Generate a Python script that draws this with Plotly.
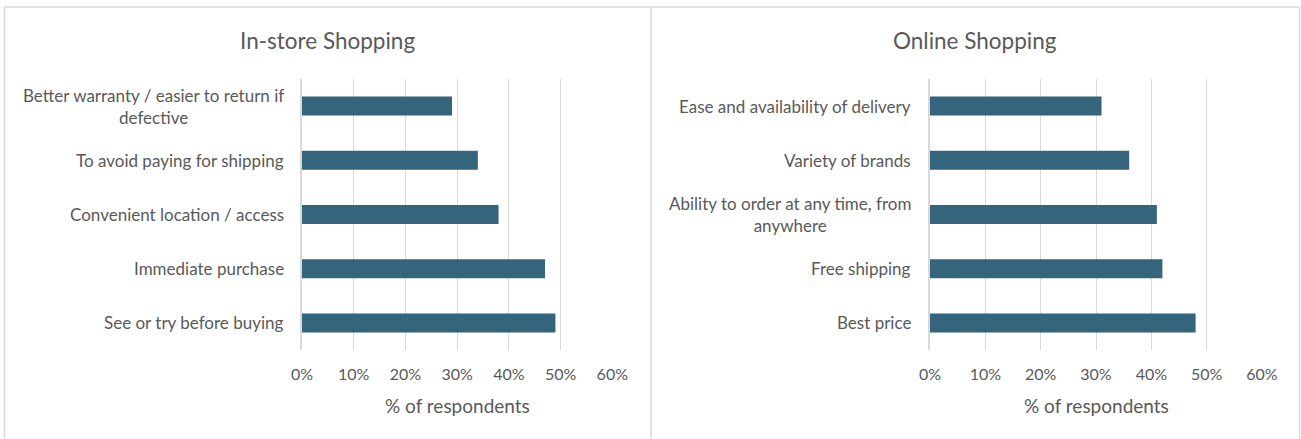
import plotly.graph_objects as go

# Reasons for choosing each shopping channel, listed bottom-to-top
instore_reasons = [
    "See or try before buying",
    "Immediate purchase",
    "Convenient location / access",
    "To avoid paying for shipping",
    "Better warranty / easier to return if<br>defective",
]
instore_share = [0.49, 0.47, 0.38, 0.34, 0.29]

online_reasons = [
    "Best price",
    "Free shipping",
    "Ability to order at any time, from<br>anywhere",
    "Variety of brands",
    "Ease and availability of delivery",
]
online_share = [0.48, 0.42, 0.41, 0.36, 0.31]

x_ticks = [0, 0.1, 0.2, 0.3, 0.4, 0.5, 0.6]
x_tick_text = ["0%", "10%", "20%", "30%", "40%", "50%", "60%"]

W, H = 1301, 439
BAR = "#35647D"
GRID = "#D9D9D9"
TEXT = "#595959"
FONT = "Lato, 'Open Sans', sans-serif"


def px(x):
    return x / W


def py(y):
    return 1 - y / H


fig = go.Figure()
fig.add_trace(go.Bar(y=instore_reasons, x=instore_share, orientation="h",
                     marker=dict(color=BAR, line=dict(width=0)),
                     xaxis="x", yaxis="y", hoverinfo="x+y"))
fig.add_trace(go.Bar(y=online_reasons, x=online_share, orientation="h",
                     marker=dict(color=BAR, line=dict(width=0)),
                     xaxis="x2", yaxis="y2", hoverinfo="x+y"))

ydom = [py(350), py(79)]
xcommon = dict(range=[0, 0.6], tickvals=x_ticks, ticktext=x_tick_text,
               showgrid=True, gridcolor=GRID, gridwidth=1, zeroline=False,
               showline=False, ticks="outside", ticklen=10, automargin=False,
               tickcolor="rgba(0,0,0,0)",
               tickfont=dict(family=FONT, size=16, color=TEXT), fixedrange=True)
ycommon = dict(type="category", showticklabels=False, showgrid=False,
               zeroline=False, showline=True, linecolor=GRID, linewidth=1.5,
               ticks="", fixedrange=True, automargin=False)

fig.update_layout(
    width=W, height=H,
    margin=dict(l=0, r=0, t=0, b=0, pad=0, autoexpand=False),
    paper_bgcolor="white", plot_bgcolor="white",
    showlegend=False, bargap=0.65,
    font=dict(family=FONT, color=TEXT),
    xaxis=dict(domain=[px(302), px(612.3)], anchor="y", **xcommon),
    yaxis=dict(domain=ydom, anchor="x", **ycommon),
    xaxis2=dict(domain=[px(930), px(1262)], anchor="y2", **xcommon),
    yaxis2=dict(domain=ydom, anchor="x2", **ycommon),
)

annotations = []
# Category labels, centred within their block and right-aligned to the axis
for reasons, yref, xr in ((instore_reasons, "y", 286), (online_reasons, "y2", 913)):
    for r in reasons:
        annotations.append(dict(text=r, x=px(xr), y=r, xref="paper", yref=yref,
                                xanchor="right", yanchor="middle", align="center",
                                showarrow=False,
                                font=dict(family=FONT, size=17, color=TEXT)))

# Panel titles and axis titles
for title, cx, axis_cx in (("In-store Shopping", 327.5, 457),
                           ("Online Shopping", 975, 1096)):
    annotations.append(dict(text=title, x=px(cx), y=py(40), xref="paper",
                            yref="paper", xanchor="center", yanchor="middle",
                            showarrow=False,
                            font=dict(family=FONT, size=22.5, color=TEXT)))
    annotations.append(dict(text="% of respondents", x=px(axis_cx), y=py(405),
                            xref="paper", yref="paper", xanchor="center",
                            yanchor="middle", showarrow=False,
                            font=dict(family=FONT, size=19, color=TEXT)))
fig.update_layout(annotations=annotations)

# Panel frames
line = dict(color=GRID, width=1.5)
shapes = [
    dict(type="line", xref="paper", yref="paper", x0=px(4.5), x1=px(1299.5),
         y0=py(7), y1=py(7), line=line),
    dict(type="line", xref="paper", yref="paper", x0=px(4.5), x1=px(4.5),
         y0=py(7), y1=py(440), line=line),
    dict(type="line", xref="paper", yref="paper", x0=px(651), x1=px(651),
         y0=py(7), y1=py(440), line=line),
    dict(type="line", xref="paper", yref="paper", x0=px(1299.5), x1=px(1299.5),
         y0=py(7), y1=py(440), line=line),
]
fig.update_layout(shapes=shapes)

fig.write_html("out.html")
